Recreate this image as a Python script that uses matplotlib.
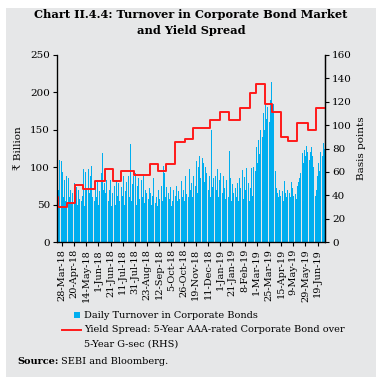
import numpy as np
import matplotlib
matplotlib.use("Agg")
import matplotlib.pyplot as plt
from matplotlib.patches import Rectangle
from matplotlib.lines import Line2D

SERIF = ['DejaVu Serif', 'DejaVu Sans']
plt.rcParams['font.family'] = SERIF

# ---- data -------------------------------------------------------------
turnover = [
    154, 70, 110, 123, 75, 108, 94, 60, 83, 55, 88, 72, 88, 85,
    60, 70, 52, 66, 45, 108, 79, 62, 74, 50, 70, 58, 65, 79,
    55, 62, 97, 48, 94, 70, 88, 58, 97, 65, 88, 101, 60, 99,
    88, 55, 72, 60, 80, 50, 68, 85, 60, 92, 119, 70, 79, 65,
    83, 60, 79, 55, 70, 83, 48, 65, 92, 58, 75, 50, 83, 62,
    79, 55, 70, 45, 74, 62, 88, 50, 68, 80, 58, 72, 88, 60,
    131, 55, 78, 88, 62, 70, 92, 50, 75, 85, 58, 90, 68, 83,
    60, 88, 52, 70, 65, 48, 80, 58, 72, 65, 50, 62, 85, 55,
    65, 52, 60, 48, 70, 58, 45, 62, 75, 55, 101, 92, 60, 74,
    62, 50, 65, 58, 74, 48, 55, 70, 60, 50, 62, 75, 55, 68,
    58, 74, 65, 82, 60, 70, 55, 88, 64, 92, 75, 60, 97, 70,
    79, 60, 88, 70, 95, 75, 108, 65, 100, 115, 85, 119, 95, 112,
    105, 80, 100, 92, 75, 98, 70, 88, 60, 150, 74, 85, 65, 80,
    88, 70, 97, 60, 83, 92, 55, 80, 65, 88, 72, 58, 83, 68,
    75, 60, 121, 85, 55, 78, 65, 83, 50, 72, 60, 79, 55, 85,
    72, 80, 65, 96, 58, 87, 70, 99, 62, 110, 79, 55, 72, 99,
    62, 100, 85, 112, 95, 127, 105, 136, 118, 150, 128, 160, 140, 172,
    150, 186, 165, 180, 172, 203, 160, 190, 214, 176, 185, 114, 117, 95,
    72, 65, 60, 70, 62, 75, 58, 68, 55, 82, 65, 60, 70, 62,
    58, 65, 60, 80, 72, 62, 55, 70, 64, 58, 75, 80, 85, 92,
    100, 110, 119, 105, 123, 115, 128, 120, 137, 203, 110, 120, 127, 115,
    100, 136, 83, 62, 70, 88, 105, 95, 120, 110, 128, 115, 132, 125,
]

spread_starts = [0, 1, 11, 21, 30, 44, 55, 64, 74, 88, 107, 116, 125, 136,
                 147, 156, 176, 187, 198, 210, 222, 229, 239, 247, 258, 266,
                 276, 288, 298]
spread_bp = [38.8, 30.2, 33.6, 48.8, 45.4, 52.2, 62.2, 52.2, 60.5, 57.3,
             66.7, 60.7, 66.7, 85.8, 87.9, 97.8, 104.4, 111.0, 104.4, 114.4,
             127.8, 135.2, 118.1, 111.2, 89.6, 86.4, 101.6, 95.8, 114.4]

tick_labels = ['28-Mar-18', '20-Apr-18', '14-May-18', '1-Jun-18', '21-Jun-18',
               '11-Jul-18', '31-Jul-18', '23-Aug-18', '12-Sep-18', '5-Oct-18',
               '26-Oct-18', '19-Nov-18', '11-Dec-18', '1-Jan-19', '21-Jan-19',
               '8-Feb-19', '1-Mar-19', '25-Mar-19', '15-Apr-19', '9-May-19',
               '29-May-19', '19-Jun-19']
tick_index = [5 + 14 * k for k in range(len(tick_labels))]

# ---- figure -----------------------------------------------------------
W, H = 383, 385
fig = plt.figure(figsize=(W / 100, H / 100), dpi=100, facecolor='white')
GRAY = '#e6e7e8'
fig.patches.append(Rectangle((6 / W, 8 / H), 370 / W, 369 / H,
                             transform=fig.transFigure, facecolor=GRAY,
                             edgecolor='none', zorder=-10))

ax = fig.add_axes([57 / W, (H - 242) / H, 268 / W, 187 / H])
ax.set_facecolor('none')
N = len(turnover)
ax.bar(np.arange(N), turnover, width=0.85, color='#00aeef', linewidth=0)
ax.set_xlim(-0.5, N - 0.5)
ax.set_ylim(0, 250)
ax.set_yticks(np.arange(0, 251, 50))
ax.set_xticks(tick_index)
ax.set_xticklabels(tick_labels, rotation=90, fontsize=7)
ax.tick_params(axis='y', labelsize=7.5, direction='out', length=3, width=0.8, pad=2)
ax.tick_params(axis='x', direction='out', length=3, width=0.8, pad=2)
ax.spines['top'].set_visible(False)
for s in ['left', 'bottom', 'right']:
    ax.spines[s].set_linewidth(0.9)
ax.set_ylabel('₹ Billion', fontsize=7.5, labelpad=5)

ax2 = ax.twinx()
ax2.set_facecolor('none')
xs = [s - 0.5 for s in spread_starts] + [N - 0.5]
ys = spread_bp + [spread_bp[-1]]
ax2.step(xs, ys, where='post', color='#ff1a1a', linewidth=1.4)
ax2.set_ylim(0, 160)
ax2.set_yticks(np.arange(0, 161, 20))
ax2.tick_params(axis='y', labelsize=7.5, direction='out', length=3, width=0.8, pad=2)
ax2.spines['top'].set_visible(False)
ax2.spines['right'].set_linewidth(0.9)
ax2.set_ylabel('Basis points', fontsize=7.5, labelpad=4)

# ---- title ------------------------------------------------------------
fig.text(191 / W, 1 - 15 / H, 'Chart II.4.4: Turnover in Corporate Bond Market',
         ha='center', va='center', fontsize=8.2, fontweight='bold')
fig.text(191 / W, 1 - 30 / H, 'and Yield Spread',
         ha='center', va='center', fontsize=8.2, fontweight='bold')

# ---- legend -----------------------------------------------------------
fig.patches.append(Rectangle((74 / W, 1 - 318 / H), 6 / W, 6 / H,
                             transform=fig.transFigure, facecolor='#00aeef',
                             edgecolor='none'))
fig.text(84 / W, 1 - 315 / H, 'Daily Turnover in Corporate Bonds',
         ha='left', va='center', fontsize=7)
fig.lines.append(Line2D([62 / W, 81 / W], [1 - 330 / H, 1 - 330 / H],
                        transform=fig.transFigure, color='#ff1a1a', linewidth=1.4))
fig.text(84 / W, 1 - 330 / H, 'Yield Spread: 5-Year AAA-rated Corporate Bond over',
         ha='left', va='center', fontsize=7)
fig.text(84 / W, 1 - 344 / H, '5-Year G-sec (RHS)',
         ha='left', va='center', fontsize=7)

# ---- source -----------------------------------------------------------
t1 = fig.text(17 / W, 1 - 362 / H, 'Source:', ha='left', va='center',
              fontsize=7, fontweight='bold')
fig.canvas.draw()
bb = t1.get_window_extent()
fig.text(bb.x1 / W + 3 / W, 1 - 362 / H, 'SEBI and Bloomberg.', ha='left',
         va='center', fontsize=7)

fig.savefig('out.png', dpi=100, facecolor='white')
